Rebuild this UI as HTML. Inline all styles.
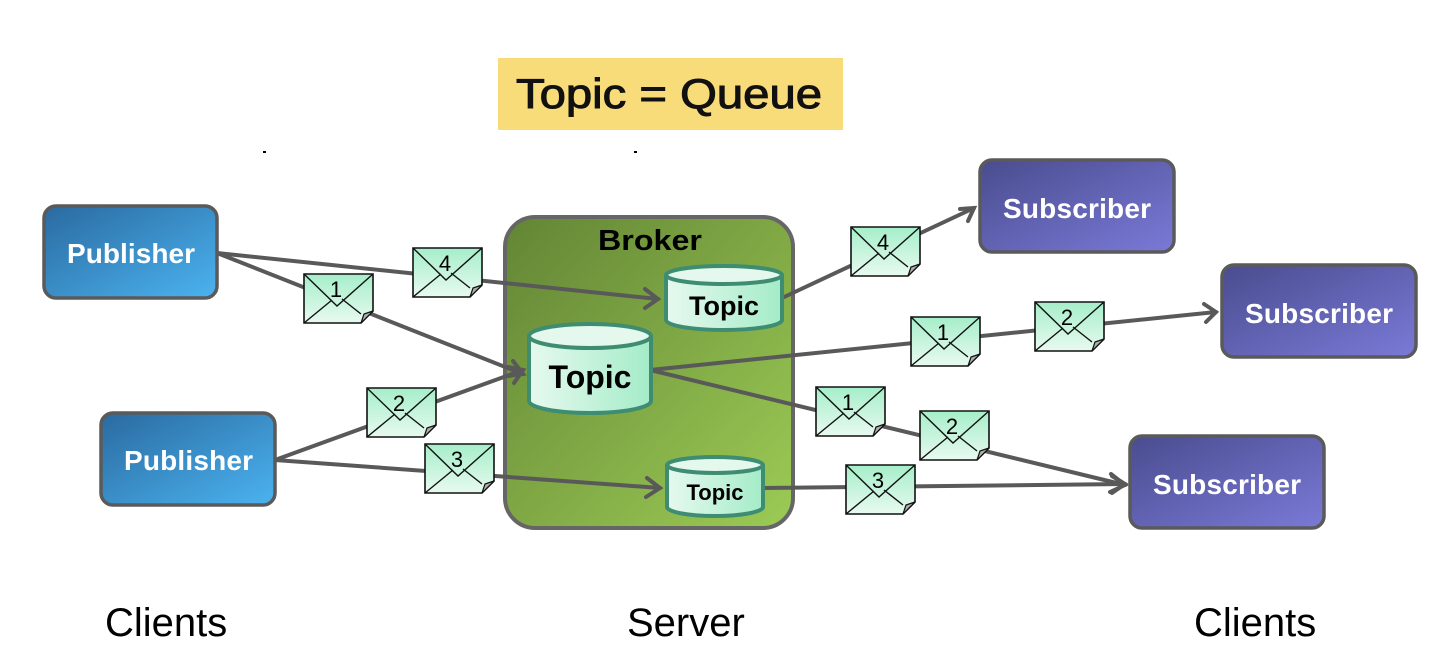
<!DOCTYPE html>
<html><head><meta charset="utf-8"><style>
html,body{margin:0;padding:0;background:#fff;}
svg{display:block;}
text{font-family:"Liberation Sans",sans-serif;}
</style></head><body>
<svg width="1442" height="666" viewBox="0 0 1442 666" xmlns="http://www.w3.org/2000/svg">
<defs>
<linearGradient id="pub" x1="0" y1="0" x2="1" y2="1"><stop offset="0" stop-color="#2a6aa0"/><stop offset="1" stop-color="#4bb3f0"/></linearGradient>
<linearGradient id="sub" x1="0" y1="0" x2="1" y2="1"><stop offset="0" stop-color="#4a4c8e"/><stop offset="1" stop-color="#7a7ad8"/></linearGradient>
<linearGradient id="brk" x1="0" y1="0" x2="1" y2="1"><stop offset="0" stop-color="#638535"/><stop offset="1" stop-color="#9ccb55"/></linearGradient>
<linearGradient id="cyl" x1="0" y1="0" x2="1" y2="0"><stop offset="0" stop-color="#e6f9ef"/><stop offset="1" stop-color="#a4ecc8"/></linearGradient>
<linearGradient id="env" x1="0" y1="0" x2="0" y2="1"><stop offset="0" stop-color="#a5eec9"/><stop offset="1" stop-color="#e8faf0"/></linearGradient>
<g id="E">
<path d="M0,0H69V37L57,49H0Z" fill="url(#env)" stroke="#111" stroke-width="1.6"/>
<path d="M0,0L33,32L69,0M0,49L28,26M38,25L57,40" fill="none" stroke="#111" stroke-width="1.4"/>
<path d="M57,49L60,40L69,37Z" fill="#b0b0b0" stroke="#111" stroke-width="1.2"/>
</g>
</defs>

<rect x="498" y="58" width="345" height="72" fill="#f9dc7a"/>
<text x="516" y="108" font-size="42" font-weight="normal" textLength="306" lengthAdjust="spacingAndGlyphs" fill="#111" stroke="#111" stroke-width="1">Topic = Queue</text>

<rect x="505" y="217" width="288" height="311" rx="30" fill="url(#brk)" stroke="#666" stroke-width="4"/>
<text x="598" y="250" font-size="29" font-weight="bold" textLength="104" lengthAdjust="spacingAndGlyphs" fill="#000">Broker</text>

<g stroke="#595959" stroke-width="4" fill="none" stroke-linecap="round">
<path d="M217,253L658,299"/><path d="M645,289L658,299L645,308"/>
<path d="M217,253L523,374"/><path d="M513,361L523,374L508,376"/>
<path d="M275,460L523,370"/><path d="M508,367L523,370L514,383"/>
<path d="M275,460L660,488"/><path d="M647,478L660,488L646,497"/>
<path d="M782,298L974,208"/><path d="M960,209L974,208L968,221"/>
<path d="M650,370L1216,312"/><path d="M1204,304L1216,312L1206,322"/>
<path d="M650,370L1125,485"/><path d="M1111,474L1125,485L1110,492"/>
<path d="M763,488L1125,484"/><path d="M1112,476L1125,484L1112,493"/>
</g>

<g stroke="#3e8d72" stroke-width="4">
<path d="M666,275V320A58,10 0 0 0 782,320V275" fill="url(#cyl)"/>
<ellipse cx="724" cy="275" rx="58" ry="9" fill="#e4f8ee"/>
<path d="M529,336V401A61,12 0 0 0 651,401V336" fill="url(#cyl)"/>
<ellipse cx="590" cy="336" rx="61" ry="12" fill="#e4f8ee"/>
<path d="M667,465V507A48,9 0 0 0 763,507V465" fill="url(#cyl)"/>
<ellipse cx="715" cy="465" rx="48" ry="8" fill="#e4f8ee"/>
</g>
<text x="724" y="315" font-size="27" font-weight="bold" text-anchor="middle" fill="#000">Topic</text>
<text x="590" y="388" font-size="32" font-weight="bold" text-anchor="middle" fill="#000">Topic</text>
<text x="715" y="500" font-size="22" font-weight="bold" text-anchor="middle" fill="#000">Topic</text>

<g stroke="#5a5a5a" stroke-width="3.5">
<rect x="44" y="206" width="173" height="92" rx="12" fill="url(#pub)"/>
<rect x="101" y="413" width="174" height="92" rx="12" fill="url(#pub)"/>
<rect x="980" y="160" width="194" height="92" rx="12" fill="url(#sub)"/>
<rect x="1222" y="265" width="194" height="92" rx="12" fill="url(#sub)"/>
<rect x="1130" y="436" width="194" height="92" rx="12" fill="url(#sub)"/>
</g>
<g font-size="28" font-weight="bold" fill="#fff" lengthAdjust="spacingAndGlyphs">
<text x="67" y="263" textLength="128">Publisher</text>
<text x="124" y="470" textLength="129">Publisher</text>
<text x="1003" y="218" textLength="148">Subscriber</text>
<text x="1245" y="323" textLength="148">Subscriber</text>
<text x="1153" y="494" textLength="148">Subscriber</text>
</g>

<g font-size="22" fill="#000" text-anchor="middle">
<use href="#E" x="304" y="274"/><text x="336" y="297">1</text>
<use href="#E" x="413" y="248"/><text x="445" y="271">4</text>
<use href="#E" x="367" y="388"/><text x="399" y="411">2</text>
<use href="#E" x="425" y="444"/><text x="457" y="467">3</text>
<use href="#E" x="851" y="227"/><text x="883" y="250">4</text>
<use href="#E" x="911" y="317"/><text x="943" y="340">1</text>
<use href="#E" x="1035" y="302"/><text x="1067" y="325">2</text>
<use href="#E" x="816" y="387"/><text x="848" y="410">1</text>
<use href="#E" x="920" y="411"/><text x="952" y="434">2</text>
<use href="#E" x="846" y="465"/><text x="878" y="488">3</text>
</g>

<rect x="263" y="151" width="3" height="2" fill="#000"/>
<rect x="634" y="151" width="3" height="2" fill="#000"/>

<g font-size="40" fill="#000">
<text x="105" y="636">Clients</text>
<text x="627" y="636">Server</text>
<text x="1194" y="636">Clients</text>
</g>
</svg>
</body></html>
